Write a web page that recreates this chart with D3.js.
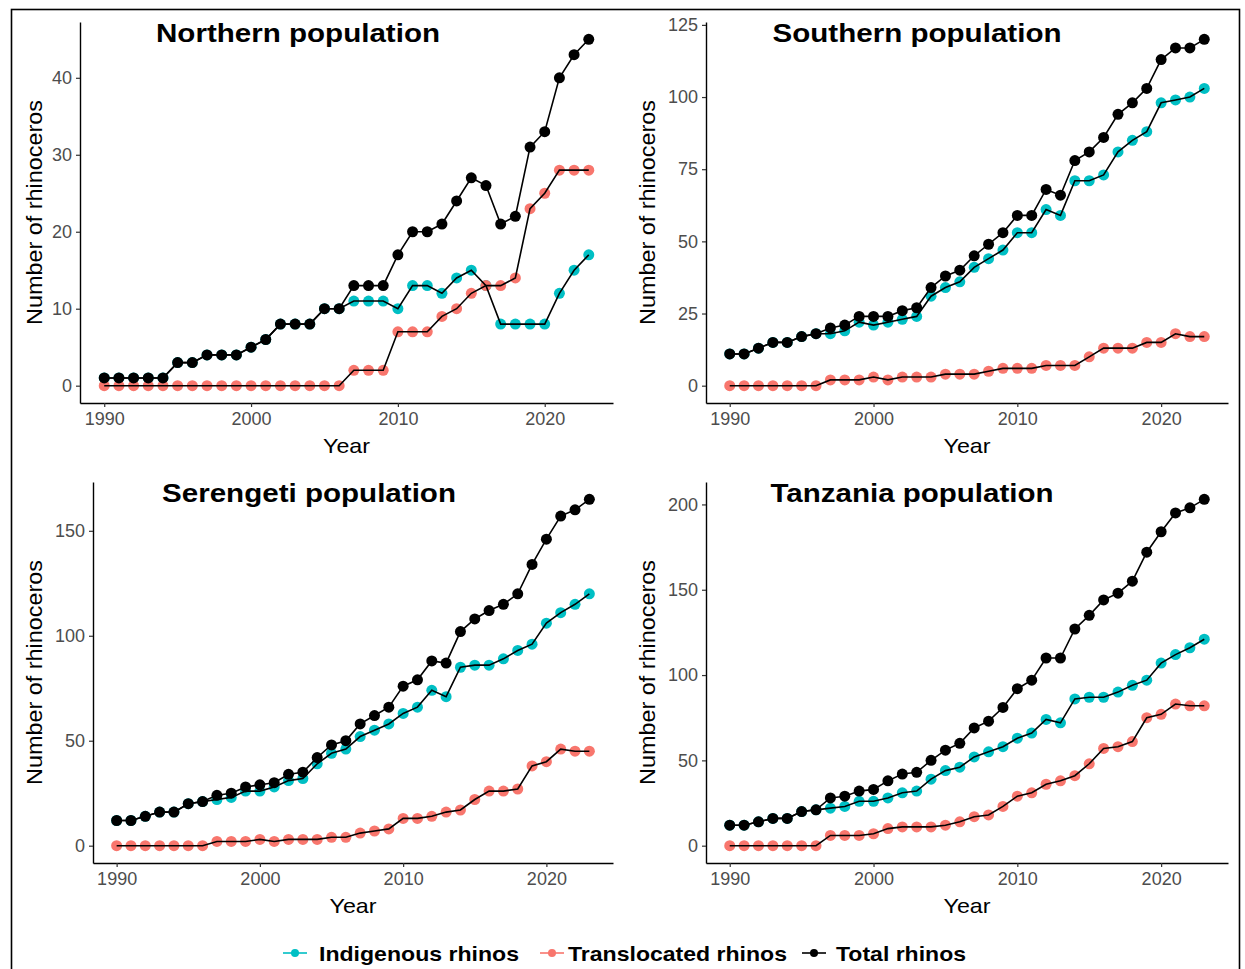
<!DOCTYPE html>
<html>
<head>
<meta charset="utf-8">
<script src="https://cdn.jsdelivr.net/npm/d3@7"></script>
<style>
  body { margin: 0; background: #fff; }
  text { font-family: "Liberation Sans", Arial, sans-serif; }
</style>
</head>
<body>
<script>
// years on the x axis
var years = [1990, 1991, 1992, 1993, 1994, 1995, 1996, 1997, 1998, 1999,
             2000, 2001, 2002, 2003, 2004, 2005, 2006, 2007, 2008, 2009,
             2010, 2011, 2012, 2013, 2014, 2015, 2016, 2017, 2018, 2019,
             2020, 2021, 2022, 2023];
var xTicks = [1990, 2000, 2010, 2020];

// Northern population
var northIndigenous   = [1,1,1,1,1,3,3,4,4,4,5,6,8,8,8,10,10,11,11,11,10,13,13,12,14,15,13,8,8,8,8,12,15,17];
var northTranslocated = [0,0,0,0,0,0,0,0,0,0,0,0,0,0,0,0,0,2,2,2,7,7,7,9,10,12,13,13,14,23,25,28,28,28];
var northTotal        = [1,1,1,1,1,3,3,4,4,4,5,6,8,8,8,10,10,13,13,13,17,20,20,21,24,27,26,21,22,31,33,40,43,45];
var northTicks = [0, 10, 20, 30, 40];

// Southern population
var southIndigenous   = [11,11,13,15,15,17,18,18,19,22,21,22,23,24,31,34,36,41,44,47,53,53,61,59,71,71,73,81,85,88,98,99,100,103];
var southTranslocated = [0,0,0,0,0,0,0,2,2,2,3,2,3,3,3,4,4,4,5,6,6,6,7,7,7,10,13,13,13,15,15,18,17,17];
var southTotal        = [11,11,13,15,15,17,18,20,21,24,24,24,26,27,34,38,40,45,49,53,59,59,68,66,78,81,86,94,98,103,113,117,117,120];
var southTicks = [0, 25, 50, 75, 100, 125];

// Serengeti population
var serengetiIndigenous   = [12,12,14,16,16,20,21,22,23,26,26,28,31,32,39,44,46,52,55,58,63,66,74,71,85,86,86,89,93,96,106,111,115,120];
var serengetiTranslocated = [0,0,0,0,0,0,0,2,2,2,3,2,3,3,3,4,4,6,7,8,13,13,14,16,17,22,26,26,27,38,40,46,45,45];
var serengetiTotal        = [12,12,14,16,16,20,21,24,25,28,29,30,34,35,42,48,50,58,62,66,76,79,88,87,102,108,112,115,120,134,146,157,160,165];
var serengetiTicks = [0, 50, 100, 150];

// Tanzania population
var tanzaniaIndigenous   = [12,12,14,16,16,20,21,22,23,26,26,28,31,32,39,44,46,52,55,58,63,66,74,72,86,87,87,90,94,97,107,112,116,121];
var tanzaniaTranslocated = [0,0,0,0,0,0,0,6,6,6,7,10,11,11,11,12,14,17,18,23,29,31,36,38,41,48,57,58,61,75,77,83,82,82];
var tanzaniaTotal        = [12,12,14,16,16,20,21,28,29,32,33,38,42,43,50,56,60,69,73,81,92,97,110,110,127,135,144,148,155,172,184,195,198,203];
var tanzaniaTicks = [0, 50, 100, 150, 200];

var seriesNames = ["Indigenous rhinos", "Translocated rhinos", "Total rhinos"];
var seriesColors = ["#00BFC4", "#F8766D", "#000000"];

var panels = [
  {title: "Northern population", data: [northIndigenous, northTranslocated, northTotal], ticks: northTicks,
   l: 80, r: 613, t: 22, b: 403, titleX: 298, titleW: 284, labX: 42},
  {title: "Southern population", data: [southIndigenous, southTranslocated, southTotal], ticks: southTicks,
   l: 706, r: 1228, t: 22, b: 403, titleX: 917, titleW: 289, labX: 655},
  {title: "Serengeti population", data: [serengetiIndigenous, serengetiTranslocated, serengetiTotal], ticks: serengetiTicks,
   l: 93, r: 613, t: 482, b: 863, titleX: 309, titleW: 294, labX: 42},
  {title: "Tanzania population", data: [tanzaniaIndigenous, tanzaniaTranslocated, tanzaniaTotal], ticks: tanzaniaTicks,
   l: 706, r: 1228, t: 482, b: 863, titleX: 912, titleW: 283, labX: 655}
];

var svg = d3.select("body").append("svg")
    .attr("width", 1245)
    .attr("height", 969);

svg.append("rect")
    .attr("width", 1245).attr("height", 969)
    .style("fill", "#fff");

// outer frame
svg.append("rect")
    .attr("x", 11.5).attr("y", 9.5)
    .attr("width", 1228).attr("height", 990)
    .style("fill", "none")
    .style("stroke", "#000")
    .style("stroke-width", 1.6);

panels.forEach(function(p) {
    // ggplot style 5% expansion
    var maxV = d3.max(p.data[2]);
    var x = d3.scaleLinear()
        .domain([1990 - 33 * 0.05, 2023 + 33 * 0.05])
        .range([p.l, p.r]);
    var y = d3.scaleLinear()
        .domain([-maxV * 0.05, maxV * 1.05])
        .range([p.b, p.t]);

    var g = svg.append("g");

    // points: indigenous, translocated, total
    p.data.forEach(function(vals, si) {
        g.selectAll(null)
            .data(vals)
            .enter().append("circle")
            .attr("cx", function(d, i) { return x(years[i]); })
            .attr("cy", function(d) { return y(d); })
            .attr("r", 5.5)
            .style("fill", seriesColors[si]);
    });

    // all lines are drawn in black on top of the points
    var line = d3.line()
        .x(function(d, i) { return x(years[i]); })
        .y(function(d) { return y(d); });

    p.data.forEach(function(vals) {
        g.append("path")
            .datum(vals)
            .attr("d", line)
            .style("fill", "none")
            .style("stroke", "#000")
            .style("stroke-width", 1.6);
    });

    // axes
    var xAxis = g.append("g")
        .attr("transform", "translate(0," + p.b + ")")
        .call(d3.axisBottom(x).tickValues(xTicks).tickFormat(d3.format("d"))
            .tickSize(4).tickSizeOuter(0).tickPadding(5));
    var yAxis = g.append("g")
        .attr("transform", "translate(" + p.l + ",0)")
        .call(d3.axisLeft(y).tickValues(p.ticks)
            .tickSize(4).tickSizeOuter(0).tickPadding(4));

    [xAxis, yAxis].forEach(function(a) {
        a.select(".domain").style("stroke", "#000").style("stroke-width", 1.4);
        a.selectAll(".tick line").style("stroke", "#333").style("stroke-width", 1.2);
        a.selectAll(".tick text")
            .style("font-family", "'Liberation Sans', Arial, sans-serif")
            .style("font-size", "18px")
            .style("fill", "#4D4D4D");
    });

    // panel title
    g.append("text")
        .attr("x", p.titleX)
        .attr("y", p.t + 20)
        .attr("text-anchor", "middle")
        .attr("textLength", p.titleW)
        .attr("lengthAdjust", "spacingAndGlyphs")
        .style("font-size", "26px")
        .style("font-weight", "bold")
        .text(p.title);

    // axis titles
    g.append("text")
        .attr("x", (p.l + p.r) / 2)
        .attr("y", p.b + 50)
        .attr("text-anchor", "middle")
        .attr("textLength", 47)
        .attr("lengthAdjust", "spacingAndGlyphs")
        .style("font-size", "21px")
        .text("Year");

    g.append("text")
        .attr("transform", "translate(" + p.labX + "," + ((p.t + p.b) / 2) + ") rotate(-90)")
        .attr("text-anchor", "middle")
        .attr("textLength", 225)
        .attr("lengthAdjust", "spacingAndGlyphs")
        .style("font-size", "22px")
        .text("Number of rhinoceros");
});

// legend at the bottom
var legendPos = [
  {key: 295, text: 319, w: 200},
  {key: 552, text: 568, w: 219},
  {key: 814, text: 836, w: 130}
];

var legend = svg.selectAll(".legend")
    .data(seriesNames)
    .enter().append("g")
    .attr("class", "legend")
    .attr("transform", function(d, i) { return "translate(0,953)"; });

legend.append("line")
    .attr("x1", function(d, i) { return legendPos[i].key - 12; })
    .attr("x2", function(d, i) { return legendPos[i].key + 12; })
    .style("stroke", function(d, i) { return seriesColors[i]; })
    .style("stroke-width", 1.6);

legend.append("circle")
    .attr("cx", function(d, i) { return legendPos[i].key; })
    .attr("r", 4)
    .style("fill", function(d, i) { return seriesColors[i]; });

legend.append("text")
    .attr("x", function(d, i) { return legendPos[i].text; })
    .attr("y", 8)
    .attr("textLength", function(d, i) { return legendPos[i].w; })
    .attr("lengthAdjust", "spacingAndGlyphs")
    .style("font-size", "21px")
    .style("font-weight", "bold")
    .text(function(d) { return d; });
</script>
</body>
</html>
